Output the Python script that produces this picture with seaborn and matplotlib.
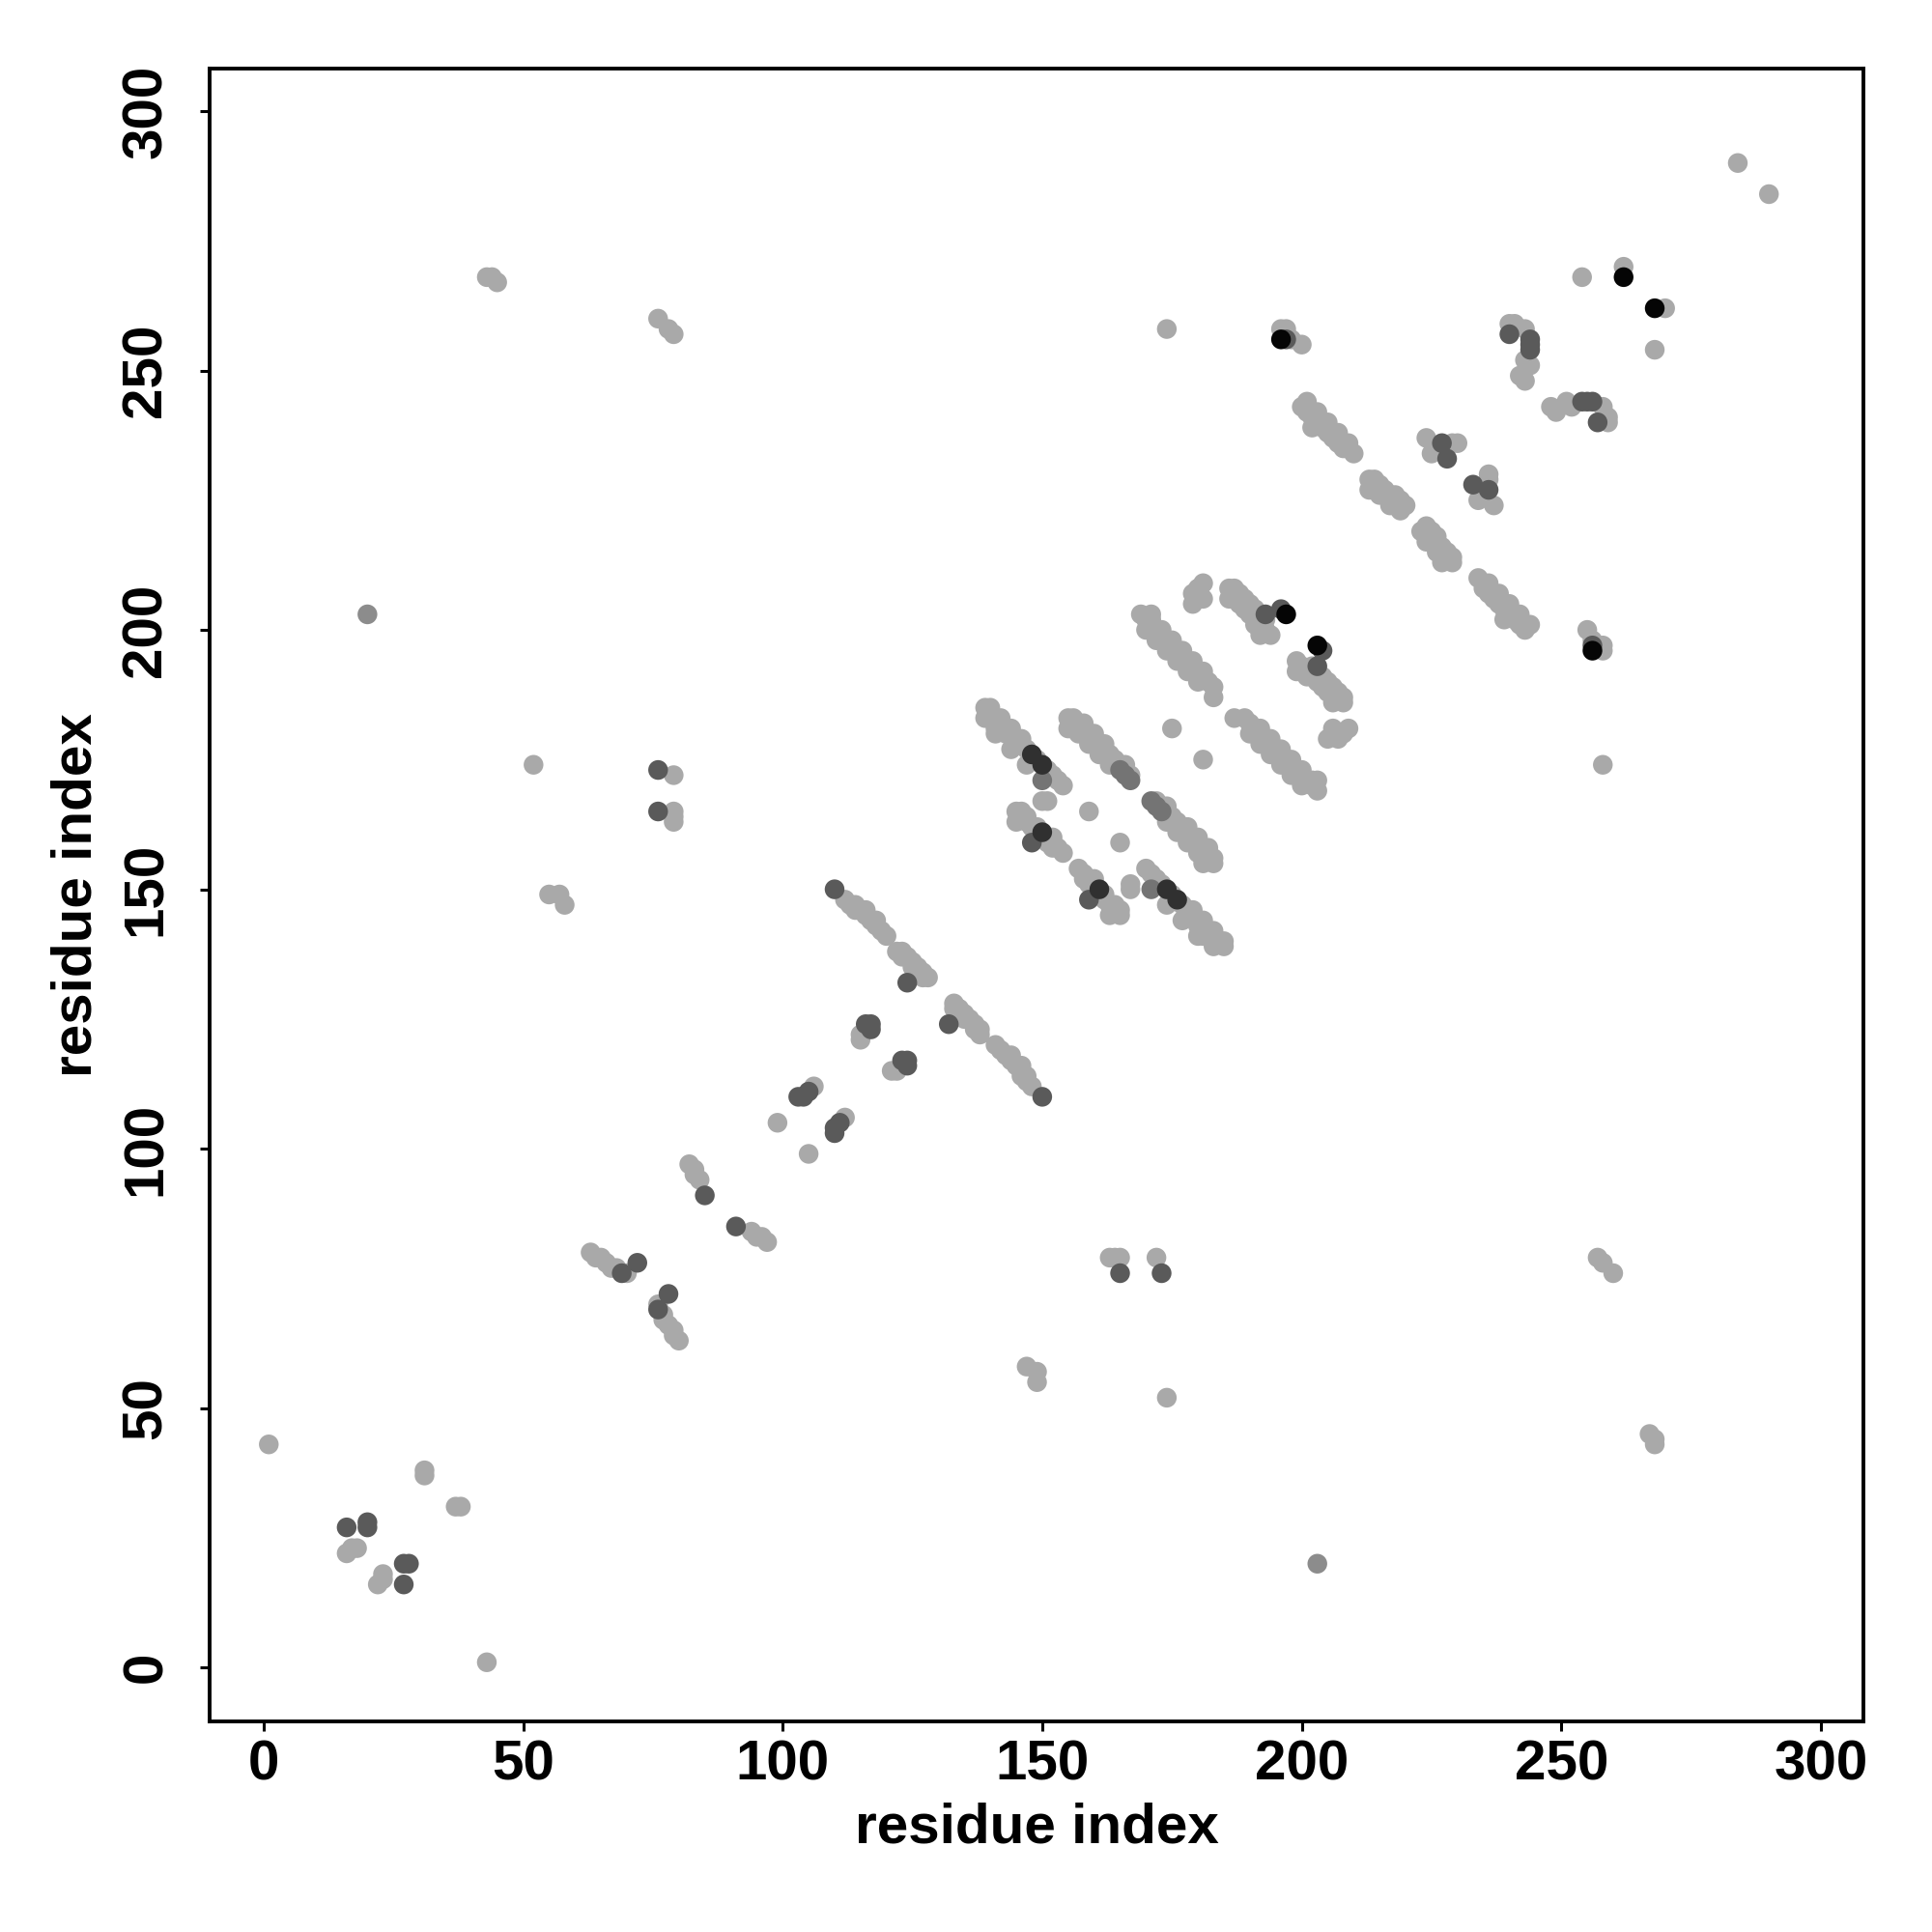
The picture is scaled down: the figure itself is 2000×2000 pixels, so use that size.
import pandas as pd
import matplotlib
matplotlib.use("Agg")
import matplotlib.pyplot as plt
import seaborn as sns

# contact pairs (i < j), the map is symmetric so each pair is drawn twice
# level: 0 light, 1 mid, 2 semi dark, 3 dark, 4 very dark, 5 black
res_i = [
    1, 16, 20, 20, 16, 17, 18, 31, 31, 20,
    43, 44, 45, 52, 55, 57, 58, 76, 78, 79,
    79, 76, 79, 79, 79, 76,
    63, 64, 65, 66, 67, 68, 70, 69, 72,
    82, 83, 83, 84, 85, 99, 103, 104, 105, 106, 110,
    112, 113, 114, 114, 115, 116, 117, 118, 119, 120, 116, 118,
    122, 123, 124, 125, 126, 127, 128, 123, 125, 127, 124,
    115, 115, 116, 117, 117,
    139, 140, 141, 142, 143, 144, 145, 146, 147, 149, 151, 152, 153, 154,
    140, 142, 144, 146, 139, 141, 143, 141, 144, 147, 150, 148, 150,
    145, 146, 146, 147, 148, 149, 150, 151, 152, 153, 154, 147, 145, 152, 150, 148,
    150, 151,
    155, 156, 156, 157, 158, 159, 160, 161, 162, 163, 164, 166, 167,
    155, 157, 159, 161, 163, 158, 160, 162, 165, 166, 167,
    159, 175,
    169, 170, 171, 172, 173, 174, 175, 176, 177, 178, 179, 180, 181, 182, 183, 183,
    170, 172, 174, 176, 178, 180, 171,
    171, 173, 175, 177, 179, 181,
    179, 179, 180, 181, 181,
    186, 187, 188, 189, 190, 191, 192, 193, 193, 192, 186, 188, 190, 191, 194,
    187, 189,
    193, 196, 197,
    200, 201, 202, 203, 204, 205, 206, 207, 208, 209, 210, 201, 203, 205, 207, 209, 202,
    213, 214, 214, 215, 216, 217, 218, 219, 220, 213, 215, 217, 219,
    224, 225, 229, 230, 227, 228,
    196, 197, 198, 200, 197, 196,
    174,
    240, 243, 243, 242, 243, 244, 241, 240, 244, 244, 244,
    254, 262, 262, 284,
]
res_j = [
    43, 27, 27, 28, 22, 23, 23, 37, 38, 203,
    268, 268, 267, 174, 149, 149, 147, 260, 258, 257,
    172, 173, 165, 164, 163, 165,
    80, 79, 79, 78, 77, 77, 76, 76, 78,
    97, 96, 95, 94, 91, 105, 110, 110, 111, 112, 150,
    148, 147, 147, 146, 146, 145, 144, 143, 142, 141, 146, 144,
    138, 137, 137, 136, 135, 134, 133, 138, 135, 133, 132,
    121, 122, 124, 124, 123,
    185, 184, 183, 182, 181, 180, 179, 178, 177, 175, 173, 172, 171, 170,
    185, 183, 181, 179, 183, 181, 180, 180, 177, 174, 171, 176, 174,
    165, 165, 164, 163, 162, 162, 160, 159, 158, 158, 157, 164, 163, 160, 161, 159,
    167, 167,
    183, 183, 182, 181, 181, 180, 179, 178, 177, 176, 175, 174, 172,
    181, 180, 178, 176, 174, 182, 180, 178, 173, 172, 171,
    165, 181,
    203, 202, 201, 200, 199, 198, 197, 196, 195, 194, 193, 192, 191, 190, 189, 187,
    200, 198, 196, 194, 192, 190, 203,
    202, 200, 198, 196, 194, 192,
    205, 207, 208, 209, 206,
    208, 208, 207, 206, 205, 204, 203, 202, 200, 199, 206, 205, 203, 201, 199,
    206, 204,
    203, 204, 203,
    243, 242, 241, 240, 239, 238, 237, 236, 235, 235, 234, 244, 242, 240, 238, 236, 239,
    229, 229, 228, 228, 227, 226, 226, 225, 224, 227, 226, 224, 223,
    237, 234, 236, 236, 236, 233,
    258, 258, 256, 255, 256, 256,
    258,
    259, 258, 252, 249, 248, 251, 259, 257, 256, 255, 254,
    268, 270, 268, 290,
]
level = [
    0, 3, 3, 3, 0, 0, 0, 0, 0, 1,
    0, 0, 0, 0, 0, 0, 0, 0, 0, 0,
    0, 3, 0, 0, 0, 3,
    0, 0, 0, 0, 0, 0, 0, 3, 3,
    0, 0, 0, 0, 3, 0, 3, 3, 3, 0, 3,
    0, 0, 0, 0, 0, 0, 0, 0, 0, 0, 0, 0,
    0, 0, 0, 0, 0, 0, 0, 0, 0, 0, 3,
    0, 0, 3, 3, 3,
    0, 0, 0, 0, 0, 0, 0, 0, 0, 0, 0, 0, 0, 0,
    0, 0, 0, 0, 0, 0, 0, 0, 0, 0, 2, 4, 4,
    0, 0, 0, 0, 0, 0, 0, 0, 0, 0, 0, 0, 0, 0, 4, 3,
    0, 0,
    0, 0, 0, 0, 0, 0, 0, 0, 0, 0, 0, 0, 0,
    0, 0, 0, 0, 0, 0, 0, 0, 2, 2, 2,
    0, 0,
    0, 0, 0, 0, 0, 0, 0, 0, 0, 0, 0, 0, 0, 0, 0, 0,
    0, 0, 0, 0, 0, 0, 0,
    0, 0, 0, 0, 0, 0,
    0, 0, 0, 0, 0,
    0, 0, 0, 0, 0, 0, 0, 0, 0, 0, 0, 0, 0, 0, 0,
    0, 0,
    3, 3, 5,
    0, 0, 0, 0, 0, 0, 0, 0, 0, 0, 0, 0, 0, 0, 0, 0, 0,
    0, 0, 0, 0, 0, 0, 0, 0, 0, 0, 0, 0, 0,
    0, 0, 0, 0, 3, 3,
    0, 0, 0, 0, 3, 5,
    0,
    0, 0, 0, 0, 0, 0, 0, 3, 3, 3, 3,
    0, 0, 5, 0,
]

shades = {0: "#a9a9a9", 1: "#8c8c8c", 2: "#747474", 3: "#5a5a5a",
          4: "#303030", 5: "#050505"}

upper = pd.DataFrame({"x": res_i, "y": res_j, "level": level})
lower = pd.DataFrame({"x": res_j, "y": res_i, "level": level})
contacts = pd.concat([upper, lower], ignore_index=True)
contacts = contacts.sort_values("level", kind="stable")

sns.set_style("ticks")
plt.rcParams["font.family"] = ["Liberation Sans", "DejaVu Sans"]
plt.rcParams["font.weight"] = "bold"

fig = plt.figure(figsize=(10, 10), dpi=200)
ax = fig.add_axes([0.1085, 0.109, 0.856, 0.8555])

sns.scatterplot(data=contacts, x="x", y="y", hue="level", palette=shades,
                s=54, linewidth=0, legend=False, ax=ax)

ax.set_xlim(-10.4, 308.2)
ax.set_ylim(-10.4, 308.2)
ax.set_xticks([0, 50, 100, 150, 200, 250, 300])
ax.set_yticks([0, 50, 100, 150, 200, 250, 300])
for sp in ax.spines.values():
    sp.set_visible(True)
    sp.set_linewidth(1.4)
    sp.set_color("black")

ax.tick_params(axis="both", direction="out", length=3.7, width=1.1,
               colors="black", labelsize=21)
ax.tick_params(axis="x", pad=3)
ax.tick_params(axis="y", pad=10)
for lab in ax.get_yticklabels():
    lab.set_rotation(90)
    lab.set_va("center")
for lab in ax.get_xticklabels() + ax.get_yticklabels():
    lab.set_fontweight("bold")

ax.set_xlabel("residue index", fontsize=21, fontweight="bold", color="black")
ax.set_ylabel("residue index", fontsize=21, fontweight="bold", color="black")
ax.xaxis.label.set_va("center")
ax.yaxis.label.set_va("center")
ax.xaxis.set_label_coords(0.5, -0.0643)
ax.yaxis.set_label_coords(-0.0806, 0.5)

plt.savefig("out.png", dpi=200)
plt.close()
